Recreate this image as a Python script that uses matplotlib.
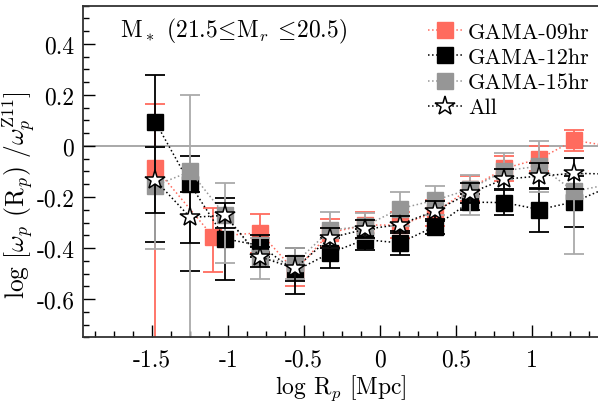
import numpy as np
import matplotlib
matplotlib.use('Agg')
import matplotlib.pyplot as plt
from matplotlib.ticker import MultipleLocator, FuncFormatter

plt.rcParams['font.family'] = 'cmr10'
plt.rcParams['mathtext.fontset'] = 'cm'
plt.rcParams['axes.unicode_minus'] = False
plt.rcParams['axes.formatter.use_mathtext'] = False

# log R_p bins (last bin lies just past the right edge of the frame)
log_rp = [-1.48, -1.25, -1.02, -0.79, -0.56, -0.33, -0.10, 0.13, 0.36, 0.59, 0.82, 1.05, 1.28, 1.51]
log_rp_09 = [-1.48, -1.10, -0.79, -0.56, -0.33, -0.10, 0.13, 0.36, 0.59, 0.82, 1.05, 1.28, 1.51]

# GAMA-09hr
y_09 = [-0.085, -0.355, -0.34, -0.49, -0.34, -0.31, -0.31, -0.262, -0.167, -0.088, -0.05, 0.022, 0.0]
lo_09 = [1.0, 0.14, 0.08, 0.06, 0.055, 0.05, 0.05, 0.05, 0.05, 0.05, 0.05, 0.04, 0.04]
hi_09 = [0.25, 0.11, 0.075, 0.06, 0.055, 0.05, 0.05, 0.05, 0.05, 0.05, 0.05, 0.04, 0.04]

# GAMA-12hr
y_12 = [0.095, -0.15, -0.364, -0.39, -0.49, -0.42, -0.367, -0.38, -0.316, -0.22, -0.222, -0.249, -0.219, -0.16]
lo_12 = [0.47, 0.34, 0.163, 0.045, 0.09, 0.06, 0.04, 0.046, 0.03, 0.03, 0.05, 0.09, 0.10, 0.08]
hi_12 = [0.185, 0.11, 0.16, 0.04, 0.09, 0.06, 0.04, 0.046, 0.03, 0.03, 0.05, 0.085, 0.10, 0.08]

# GAMA-15hr
y_15 = [-0.155, -0.10, -0.272, -0.44, -0.46, -0.33, -0.314, -0.246, -0.213, -0.17, -0.097, -0.079, -0.178, -0.15]
lo_15 = [0.25, 1.0, 0.185, 0.08, 0.06, 0.07, 0.05, 0.066, 0.056, 0.1, 0.07, 0.1, 0.246, 0.1]
hi_15 = [0.15, 0.30, 0.126, 0.08, 0.06, 0.07, 0.05, 0.066, 0.056, 0.056, 0.07, 0.1, 0.07, 0.1]

# All
y_all = [-0.134, -0.28, -0.272, -0.435, -0.48, -0.36, -0.327, -0.308, -0.255, -0.185, -0.13, -0.118, -0.107, -0.11]
err_all = [0.13, 0.1, 0.05, 0.04, 0.05, 0.04, 0.035, 0.035, 0.04, 0.04, 0.04, 0.05, 0.06, 0.06]

c_09 = '#ff6b5e'
c_12 = 'black'
c_15 = '#969696'

fig = plt.figure(figsize=(5.98, 4.02), dpi=100)
# right spine sits just past the figure edge, like the cropped original
ax = fig.add_axes([0.1383, 0.1585, 0.8635, 0.8248])

ax.axhline(0, color='#999999', lw=1.2, zorder=1)

series = [
    (log_rp_09, y_09, lo_09, hi_09, c_09, c_09, 'GAMA-09hr'),
    (log_rp, y_12, lo_12, hi_12, c_12, c_12, 'GAMA-12hr'),
    (log_rp, y_15, lo_15, hi_15, c_15, '#aaaaaa', 'GAMA-15hr'),
]
for x, y, lo, hi, col, ecol, lab in series:
    ax.errorbar(x, y, yerr=[lo, hi], fmt='none', ecolor=ecol, elinewidth=1.3,
                capsize=7, capthick=1.3)
    ax.plot(x, y, ls=':', lw=1.1, color=col, marker='s', ms=11,
            mfc=col, mec=col, label=lab)

ax.errorbar(log_rp, y_all, yerr=err_all, fmt='none', ecolor='black',
            elinewidth=1.3, capsize=7, capthick=1.3)
ax.plot(log_rp, y_all, ls=':', lw=1.1, color='black', marker='*', ms=15,
        mfc='white', mec='black', mew=1.1, label='All')

ax.set_xlim(-1.958, 1.443)
ax.set_ylim(-0.75, 0.55)

ax.xaxis.set_major_locator(MultipleLocator(0.5))
ax.xaxis.set_minor_locator(MultipleLocator(0.125))
ax.yaxis.set_major_locator(MultipleLocator(0.2))
ax.yaxis.set_minor_locator(MultipleLocator(0.05))
fmt = FuncFormatter(lambda v, p: '%g' % round(v, 3))
ax.xaxis.set_major_formatter(fmt)
ax.yaxis.set_major_formatter(fmt)

ax.tick_params(which='both', direction='in', top=False, right=False, width=1.0)
ax.tick_params(which='major', length=8.5, labelsize=17)
ax.tick_params(which='minor', length=4.5)
ax.tick_params(axis='x', which='major', pad=8)
ax.tick_params(axis='y', which='major', pad=6)
for s in ax.spines.values():
    s.set_linewidth(1.3)
    s.set_color('#333333')

ax.set_xlabel(r'log R$_p$ [Mpc]', fontsize=17)
ax.xaxis.set_label_coords(0.5, -0.105)
ax.set_ylabel(r'log [$\omega_p$ (R$_p$) /$\omega_p^{\rm Z11}$]', fontsize=18.3)
ax.yaxis.set_label_coords(-0.087, 0.432)

fig.text(120 / 598, 1 - 31 / 402, r'M$_*$ (21.5$\!\leq\!$M$_r$ $\!\leq\!$20.5)',
         fontsize=17, va='center', ha='left')

ax.legend(loc='upper left', bbox_to_anchor=(0.69, 0.98), bbox_transform=fig.transFigure,
          frameon=False, fontsize=16, numpoints=1, handlelength=1.5,
          handletextpad=0.3, labelspacing=0.25, borderpad=0.2)

fig.savefig('out.png', dpi=100)
